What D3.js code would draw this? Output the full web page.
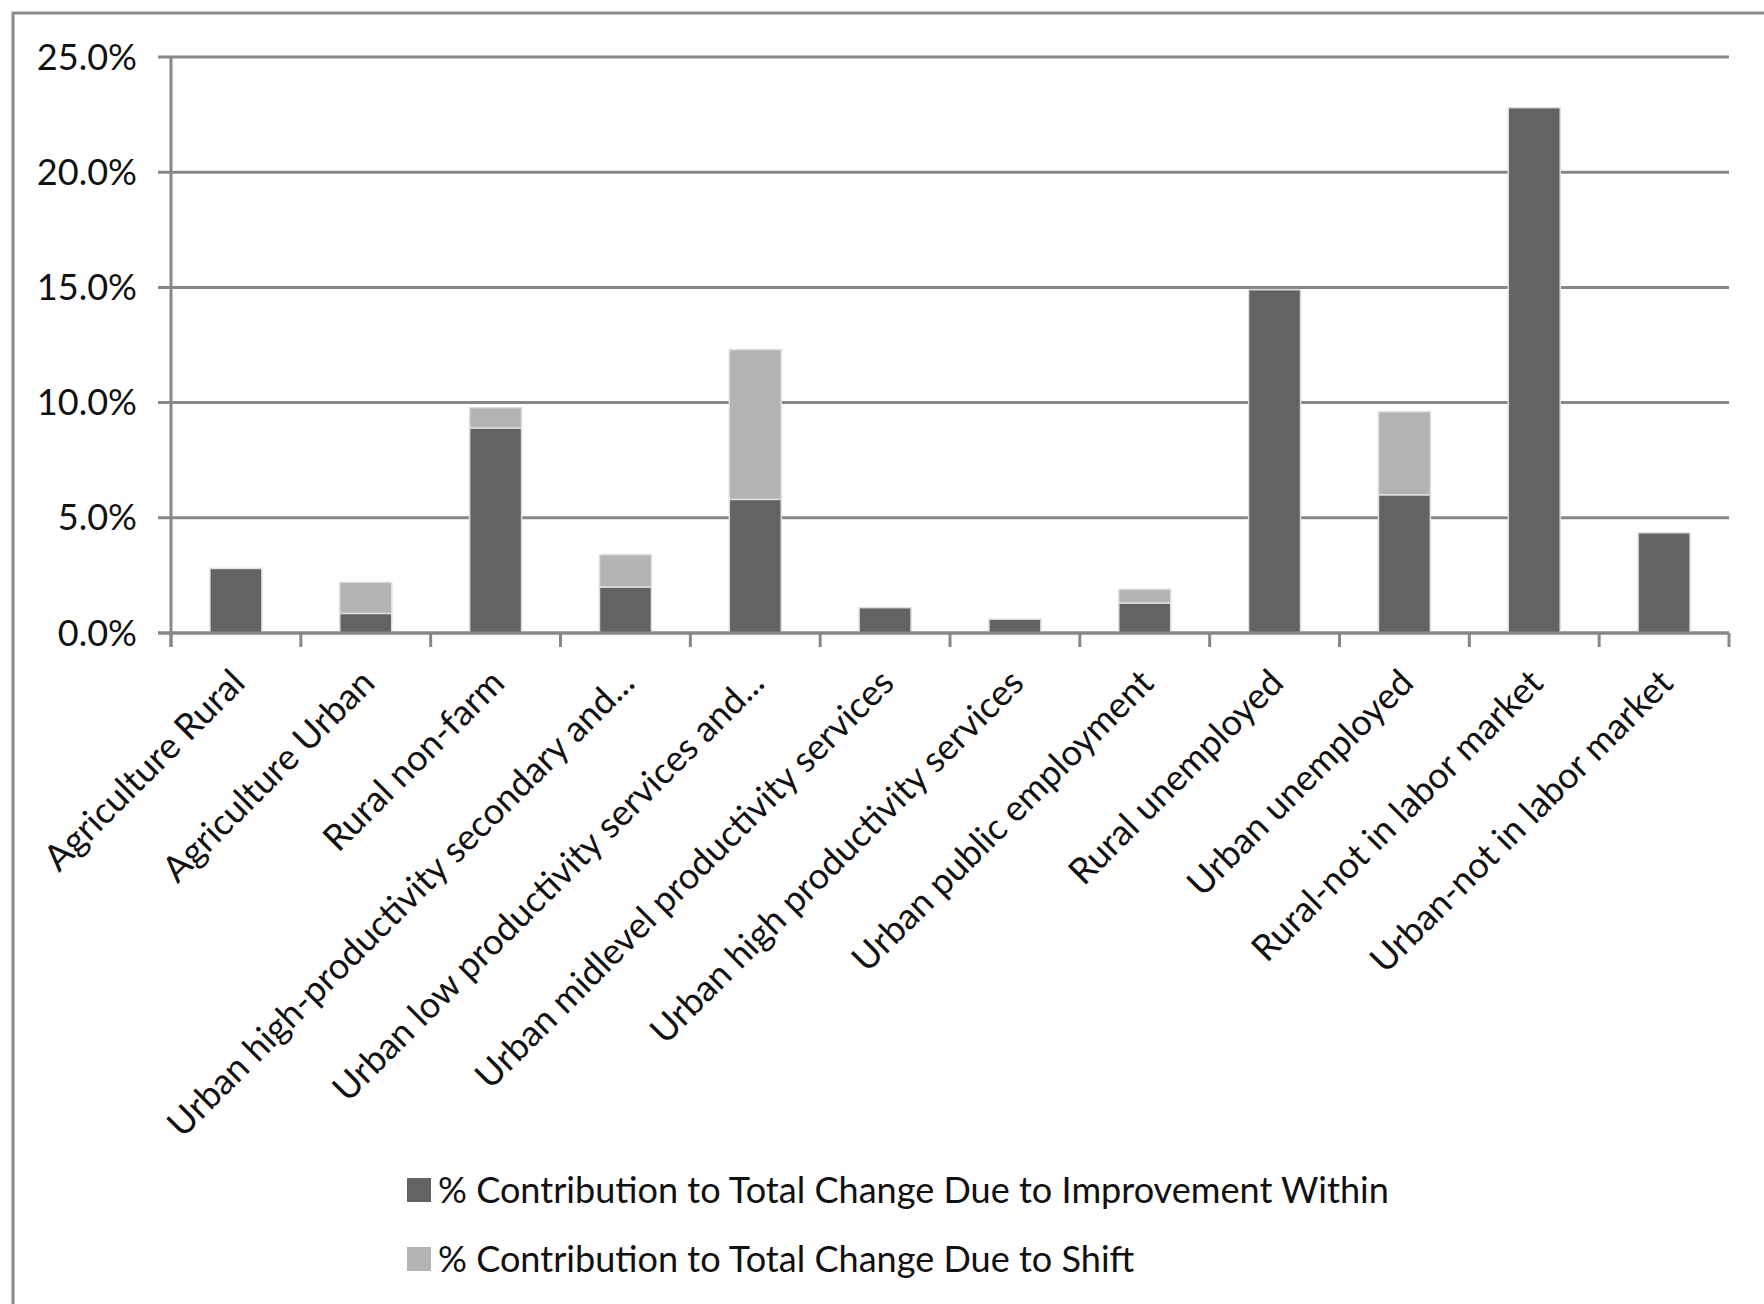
<!DOCTYPE html>
<html>
<head>
<meta charset="utf-8">
<script src="https://cdn.jsdelivr.net/npm/d3@7"></script>
<style>
  html, body { margin: 0; padding: 0; background: #fff; }
  svg { display: block; }
</style>
</head>
<body>
<svg id="chart" width="1764" height="1304"></svg>
<script>
// Categories of employment status
const categories = [
  "Agriculture Rural",
  "Agriculture Urban",
  "Rural non-farm",
  "Urban high-productivity secondary and...",
  "Urban low productivity services and...",
  "Urban midlevel productivity services",
  "Urban high productivity services",
  "Urban public employment",
  "Rural unemployed",
  "Urban unemployed",
  "Rural-not in labor market",
  "Urban-not in labor market"
];

// % contribution to total change due to improvement within each category
const withinValues = [2.8, 0.85, 8.9, 2.0, 5.8, 1.1, 0.6, 1.3, 14.9, 6.0, 22.8, 4.35];

// % contribution to total change due to shift between categories
const shiftValues = [0.0, 1.35, 0.88, 1.4, 6.5, 0.0, 0.0, 0.6, 0.0, 3.6, 0.0, 0.0];

const seriesNames = [
  "% Contribution to Total Change Due to Improvement Within",
  "% Contribution to Total Change Due to Shift"
];

const yTicks = [0, 5, 10, 15, 20, 25];

const FONT = "Lato, 'Open Sans', sans-serif";
const DARK = "#636363";
const LIGHT = "#b3b3b3";
const GRID = "#878787";

const svg = d3.select("#chart");

// Size the type so the long legend entry spans its intended width
const probe = svg.append("text")
  .attr("font-family", FONT).attr("font-size", 100)
  .text(seriesNames[0]);
const probeW = probe.node().getComputedTextLength();
probe.remove();
const fs = 100 * 951 / probeW;

// Outer chart frame (continues past right and bottom edges)
svg.append("path")
  .attr("d", "M13,1310V13H1770")
  .attr("fill", "none")
  .attr("stroke", "#8a8a8a")
  .attr("stroke-width", 3);

const plot = { left: 171, right: 1729, top: 57, bottom: 633 };

const x = d3.scaleBand()
  .domain(categories)
  .range([plot.left, plot.right])
  .paddingInner(0.6)
  .paddingOuter(0.3);

const y = d3.scaleLinear()
  .domain([0, 25])
  .range([plot.bottom, plot.top]);

// Horizontal gridlines with outward ticks on the value axis
const grid = svg.append("g");
grid.selectAll("line")
  .data(yTicks)
  .join("line")
  .attr("x1", plot.left - 13)
  .attr("x2", plot.right)
  .attr("y1", d => y(d))
  .attr("y2", d => y(d))
  .attr("stroke", GRID)
  .attr("stroke-width", 3);

// Value axis labels
svg.append("g")
  .selectAll("text")
  .data(yTicks)
  .join("text")
  .attr("x", 137)
  .attr("y", d => y(d))
  .attr("dy", "0.35em")
  .attr("text-anchor", "end")
  .attr("font-family", FONT)
  .attr("font-size", fs)
  .attr("fill", "#111")
  .text(d => d3.format(".1f")(d) + "%");

// Stacked bars
const stackData = categories.map((c, i) => ({ cat: c, within: withinValues[i], shift: shiftValues[i] }));
const stack = d3.stack().keys(["within", "shift"])(stackData);
const colors = { within: DARK, shift: LIGHT };

svg.append("g")
  .selectAll("g")
  .data(stack)
  .join("g")
  .attr("fill", d => colors[d.key])
  .selectAll("rect")
  .data(d => d.filter(s => s[1] - s[0] > 0))
  .join("rect")
  .attr("x", d => x(d.data.cat))
  .attr("width", x.bandwidth())
  .attr("y", d => y(d[1]))
  .attr("height", d => y(d[0]) - y(d[1]))
  .attr("stroke", "#dedede")
  .attr("stroke-width", 1.5);

// Category axis: baseline, vertical axis line and boundary ticks
const axis = svg.append("g").attr("stroke", GRID).attr("stroke-width", 3);
axis.append("line")
  .attr("x1", plot.left).attr("x2", plot.left)
  .attr("y1", plot.top).attr("y2", plot.bottom + 14);
axis.append("line")
  .attr("x1", plot.left - 13).attr("x2", plot.right)
  .attr("y1", plot.bottom).attr("y2", plot.bottom);
const step = x.step();
axis.selectAll("line.tick")
  .data(d3.range(categories.length + 1))
  .join("line")
  .attr("class", "tick")
  .attr("x1", i => plot.left + i * step)
  .attr("x2", i => plot.left + i * step)
  .attr("y1", plot.bottom)
  .attr("y2", plot.bottom + 14);

// Rotated category labels
svg.append("g")
  .selectAll("text")
  .data(categories)
  .join("text")
  .attr("transform", d => `translate(${x(d) + x.bandwidth() / 2 + 11},${plot.bottom + 52}) rotate(-45)`)
  .attr("text-anchor", "end")
  .attr("font-family", FONT)
  .attr("font-size", fs)
  .attr("fill", "#111")
  .text(d => d);

// Legend
const legend = svg.append("g")
  .selectAll("g")
  .data(seriesNames)
  .join("g")
  .attr("transform", (d, i) => `translate(407,${1178 + i * 69})`);
legend.append("rect")
  .attr("width", 24)
  .attr("height", 24)
  .attr("fill", (d, i) => i === 0 ? DARK : LIGHT);
legend.append("text")
  .attr("x", 31)
  .attr("y", 12)
  .attr("dy", "0.35em")
  .attr("font-family", FONT)
  .attr("font-size", fs)
  .attr("fill", "#111")
  .text(d => d);
</script>
</body>
</html>
